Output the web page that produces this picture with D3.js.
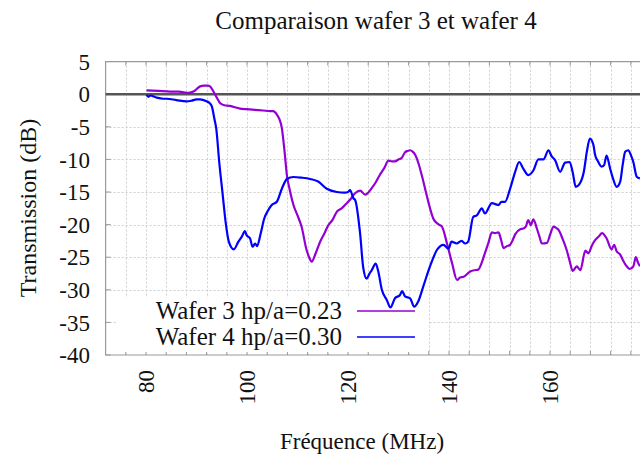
<!DOCTYPE html>
<html>
<head>
<meta charset="utf-8">
<script src="https://cdn.jsdelivr.net/npm/d3@7"></script>
<style>
  html, body { margin: 0; padding: 0; background: #fff; }
  svg { display: block; }
  text { font-family: "Liberation Serif", "Times New Roman", serif; fill: #111; }
</style>
</head>
<body>
<svg id="chart" width="640" height="458"></svg>
<script>
// Wafer 3 (hp/a = 0.23): frequency (MHz) and transmission (dB)
const freq3 = [80.1, 82.5, 84.8, 86.5, 88.4, 89.6, 90.7, 91.5, 92.3, 92.8, 93.3, 94.0, 94.7, 95.5, 96.6, 98.6, 99.9, 101.5, 103.2, 104.6, 105.2, 105.9,
  106.4, 106.9, 107.4, 107.9, 108.5, 109.2, 110.0, 110.8, 111.8, 112.3, 112.8, 113.6, 114.5, 115.3, 116.1, 117.0, 117.8, 118.6, 119.4, 120.4,
  121.4, 122.4, 123.4, 124.7, 125.5, 126.3, 127.2, 128.0, 128.7, 129.3, 130.0, 130.6, 131.3, 131.8, 132.3, 132.8, 133.3, 134.0, 134.6, 135.3, 135.9,
  136.9, 137.8, 138.6, 139.6, 140.6, 141.6, 142.2, 142.9, 144.2, 145.0, 145.8, 146.5, 147.1, 147.8, 148.5, 149.1, 149.8, 150.3, 150.8, 151.5, 152.1,
  152.6, 153.1, 154.1, 154.7, 155.2, 155.7, 156.2, 156.7, 157.4, 157.9, 158.4, 159.4, 160.0, 160.7, 161.2, 161.7, 162.5, 163.3, 163.9, 164.5, 165.3,
  166.0, 167.0, 167.6, 168.3, 169.0, 169.7, 170.3, 171.2, 172.2, 172.7, 173.2, 173.9, 174.4, 175.0, 175.8, 176.5, 177.0, 177.4, 177.8];
const gain3 = [0.6, 0.5, 0.4, 0.4, 0.2, 0.5, 1.2, 1.3, 1.3, 1.1, 0.5, -0.5, -1.4, -1.7, -1.8, -2.2, -2.3, -2.4, -2.5, -2.6, -2.6, -3.1,
  -3.8, -5.2, -8.5, -12.4, -14.8, -17.0, -18.6, -20.3, -23.9, -25.0, -25.7, -24.4, -22.6, -21.4, -20.1, -19.2, -18.0, -17.6, -17.0, -16.2,
  -15.2, -14.8, -15.4, -14.4, -13.5, -12.4, -11.3, -10.2, -10.3, -10.3, -10.0, -9.8, -8.9, -8.7, -8.6, -8.8, -9.3, -10.7, -12.4, -14.6, -16.5,
  -19.1, -19.9, -20.3, -22.9, -25.9, -28.5, -28.1, -28.0, -27.2, -27.0, -26.9, -25.8, -24.4, -22.8, -21.2, -21.3, -21.2, -22.3, -23.6, -23.3, -23.1,
  -22.4, -21.5, -20.7, -20.6, -20.3, -19.3, -20.1, -19.2, -20.6, -21.8, -22.9, -22.8, -21.6, -20.3, -20.5, -20.8, -22.2, -23.9, -25.6, -27.1, -26.4,
  -27.0, -24.0, -24.4, -23.2, -22.3, -21.8, -21.3, -22.1, -23.8, -23.1, -24.1, -24.6, -25.4, -26.2, -26.8, -26.4, -25.0, -25.8, -26.4];

// Wafer 4 (hp/a = 0.30): frequency (MHz) and transmission (dB)
const freq4 = [80.1, 80.5, 80.8, 82.0, 83.4, 84.1, 86.0, 88.0, 89.0, 90.0, 90.7, 92.0, 92.5, 93.0, 93.6, 93.9, 94.5, 95.2, 95.8, 96.4, 97.4,
  98.3, 99.0, 99.6, 99.9, 100.6, 101.1, 101.6, 102.0, 102.7, 103.4, 104.2, 104.9, 105.9, 106.9, 107.9, 109.2, 110.8, 112.5, 114.1, 115.8, 117.8,
  119.4, 120.0, 120.4, 121.1, 121.4, 122.4, 123.0, 123.7, 124.2, 124.7, 125.5, 126.0, 126.7, 127.7, 128.4, 129.3, 130.3, 130.7, 131.3, 132.3,
  133.1, 133.9, 134.9, 136.2, 137.6, 138.9, 139.9, 140.5, 141.5, 142.5, 143.2, 143.8, 144.8, 145.5, 146.5, 147.1, 148.5, 149.3, 149.8, 150.4,
  151.1, 152.1, 153.1, 153.9, 154.7, 155.7, 156.7, 157.7, 158.7, 159.7, 160.3, 161.0, 162.0, 163.0, 163.9, 164.5, 165.1, 165.9, 166.7, 167.3,
  167.9, 168.6, 168.9, 169.5, 170.2, 170.7, 171.2, 171.9, 172.5, 173.2, 173.9, 174.4, 174.9, 175.5, 176.0, 176.5, 177.2, 177.8];
const gain4 = [-0.1, -0.4, -0.2, -0.5, -0.7, -0.7, -0.9, -1.1, -1.0, -0.8, -0.8, -1.1, -1.3, -1.8, -4.0, -5.2, -10.4, -15.5, -19.8, -22.6, -23.8,
  -22.6, -21.8, -21.0, -21.6, -22.1, -23.4, -22.9, -23.3, -21.4, -19.1, -17.8, -17.0, -16.5, -14.5, -13.0, -12.7, -12.8, -13.0, -13.4, -14.5, -15.0,
  -15.1, -15.0, -14.7, -16.0, -16.2, -21.4, -26.5, -28.3, -27.6, -27.0, -26.0, -27.2, -30.0, -31.6, -32.7, -31.3, -30.8, -30.2, -31.0, -31.3,
  -32.6, -31.8, -29.5, -26.5, -23.9, -23.1, -23.7, -22.6, -22.9, -22.5, -22.9, -22.6, -18.8, -18.6, -17.5, -18.3, -16.7, -16.9, -17.0, -16.5,
  -16.5, -14.5, -11.9, -10.4, -11.4, -12.4, -11.7, -10.0, -10.0, -8.6, -9.5, -10.1, -11.9, -10.5, -10.4, -12.0, -14.2, -13.7, -11.9, -8.8,
  -6.8, -7.8, -9.2, -10.3, -11.1, -10.9, -9.4, -11.4, -13.0, -14.2, -13.4, -10.8, -8.8, -8.6, -9.3, -10.4, -12.7, -12.9];

// Axis ticks and labels
const xTickValues = [80, 100, 120, 140, 160];
const yTickValues = [5, 0, -5, -10, -15, -20, -25, -30, -35, -40];
const title = "Comparaison wafer 3 et wafer 4";
const xLabel = "Fréquence (MHz)";
const yLabel = "Transmission (dB)";
const seriesNames = ["Wafer 3 hp/a=0.23", "Wafer 4 hp/a=0.30"];
const seriesColors = ["#9400d3", "#0000ff"];

const svg = d3.select("#chart");
const x = d3.scaleLinear().domain([72, 180]).range([105.6, 651]);
const y = d3.scaleLinear().domain([-40, 5]).range([355, 61.6]);
const plotL = x.range()[0], plotR = x.range()[1];
const plotT = y.range()[1], plotB = y.range()[0];

// Dotted grid: every 4 MHz and every 5 dB
const grid = svg.append("g").attr("stroke", "#cfcfcf").attr("stroke-width", 1).attr("stroke-dasharray", "2,2");
grid.selectAll("line.v").data(d3.range(76, 180, 4)).join("line")
  .attr("x1", d => Math.round(x(d)) + 0.5).attr("x2", d => Math.round(x(d)) + 0.5)
  .attr("y1", plotT).attr("y2", plotB);
grid.selectAll("line.h").data(yTickValues.filter(v => v > -40 && v < 5)).join("line")
  .attr("x1", plotL).attr("x2", plotR)
  .attr("y1", d => Math.round(y(d)) + 0.5).attr("y2", d => Math.round(y(d)) + 0.5);

// Frame (left, top, bottom)
const frame = svg.append("g").attr("stroke", "#9a9a9a").attr("stroke-width", 1.2).attr("fill", "none");
frame.append("path").attr("d", `M${plotR},${plotT}H${plotL}V${plotB}H${plotR}`);

// Inward ticks
const tk = svg.append("g").attr("stroke", "#9a9a9a").attr("stroke-width", 1);
tk.selectAll("line.xb").data(d3.range(76, 180, 4)).join("line")
  .attr("x1", d => x(d)).attr("x2", d => x(d)).attr("y1", plotB).attr("y2", plotB - 4);
tk.selectAll("line.xt").data(d3.range(76, 180, 4)).join("line")
  .attr("x1", d => x(d)).attr("x2", d => x(d)).attr("y1", plotT).attr("y2", plotT + 4);
tk.selectAll("line.yl").data(yTickValues).join("line")
  .attr("x1", plotL).attr("x2", plotL + 5).attr("y1", d => y(d)).attr("y2", d => y(d));

// Legend background box (drawn over grid, under curves)
svg.append("rect").attr("x", 117).attr("y", 298).attr("width", 311).attr("height", 54).attr("fill", "#fff");

// Zero reference line
svg.append("line").attr("x1", plotL).attr("x2", plotR).attr("y1", y(0)).attr("y2", y(0))
  .attr("stroke", "#555").attr("stroke-width", 2.5);

// Curves
const line = d3.line().x(d => x(d[0])).y(d => y(d[1])).curve(d3.curveMonotoneX);
const series = [d3.zip(freq3, gain3), d3.zip(freq4, gain4)];
svg.append("g").selectAll("path").data(series).join("path")
  .attr("d", line).attr("fill", "none")
  .attr("stroke", (d, i) => seriesColors[i]).attr("stroke-width", 2.2).attr("stroke-linejoin", "round");

// Y tick labels
svg.append("g").selectAll("text").data(yTickValues).join("text")
  .attr("x", 90).attr("y", d => y(d)).attr("dy", "0.36em")
  .attr("text-anchor", "end").attr("font-size", 23).text(d => d);

// X tick labels (rotated)
svg.append("g").selectAll("text").data(xTickValues).join("text")
  .attr("transform", d => `translate(${x(d)},370) rotate(-90)`)
  .attr("dy", "0.35em").attr("text-anchor", "end").attr("font-size", 23).text(d => d);

// Titles
svg.append("text").attr("x", 376).attr("y", 29).attr("text-anchor", "middle").attr("font-size", 25).text(title);
svg.append("text").attr("x", 362).attr("y", 449).attr("text-anchor", "middle").attr("font-size", 23).text(xLabel);
svg.append("text").attr("transform", "translate(36,208) rotate(-90)").attr("text-anchor", "middle")
  .attr("font-size", 24).text(yLabel);

// Legend
const legY = [311, 337];
const leg = svg.append("g");
seriesNames.forEach((name, i) => {
  leg.append("text").attr("x", 342).attr("y", legY[i]).attr("dy", "0.33em")
    .attr("text-anchor", "end").attr("font-size", 25).text(name);
  leg.append("line").attr("x1", 357).attr("x2", 415).attr("y1", legY[i]).attr("y2", legY[i])
    .attr("stroke", seriesColors[i]).attr("stroke-width", 1.5);
});
</script>
</body>
</html>
